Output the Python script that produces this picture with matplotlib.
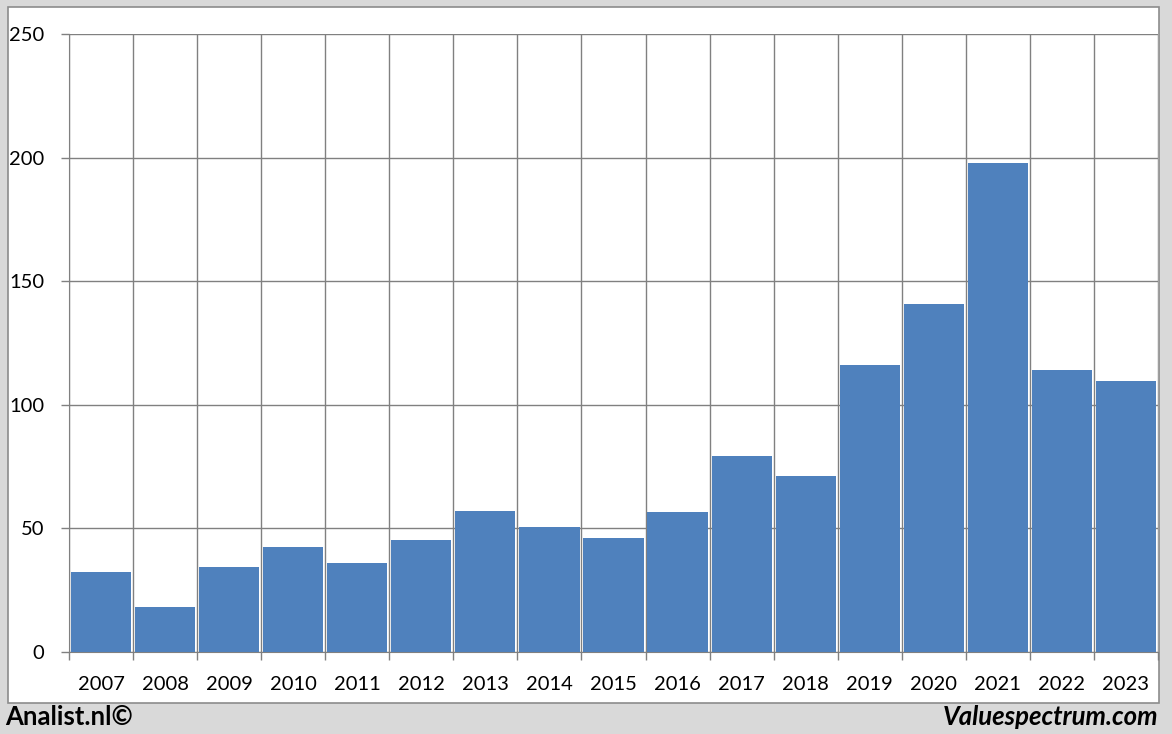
import numpy as np
import matplotlib
matplotlib.use("Agg")
import matplotlib.pyplot as plt
from matplotlib.patches import Rectangle

years = ['2007', '2008', '2009', '2010', '2011', '2012', '2013', '2014', '2015',
         '2016', '2017', '2018', '2019', '2020', '2021', '2022', '2023']
values = [32.4, 18.2, 34.4, 42.5, 36.0, 45.3, 57.0, 50.6, 46.1,
          56.6, 79.3, 71.2, 116.1, 140.8, 197.8, 114.1, 109.6]
yticks = [0, 50, 100, 150, 200, 250]

W, H = 1172, 734
fig = plt.figure(figsize=(W / 100, H / 100), dpi=100)
fig.patch.set_facecolor('#d9d9d9')

# white panel
fig.patches.append(Rectangle((8 / W, 1 - 703 / H), (1159 - 8) / W, (703 - 7) / H,
                             transform=fig.transFigure, facecolor='white',
                             edgecolor='#8c8c8c', linewidth=1.2, zorder=-10))

ax = fig.add_axes([69 / W, 1 - 652 / H, 1089 / W, 618 / H])
ax.set_facecolor('white')

x = np.arange(len(years))
ax.bar(x, values, width=0.94, color='#4f81bd', zorder=3)

ax.set_xlim(-0.5, len(years) - 0.5)
ax.set_ylim(0, 250)
ax.set_yticks(yticks)
ax.set_yticklabels([str(v) for v in yticks])

# category boundaries as ticks + vertical grid
ax.set_xticks(np.arange(len(years) + 1) - 0.5)
ax.set_xticklabels([])
ax.set_xticks(x, minor=True)
ax.set_xticklabels(years, minor=True)
ax.tick_params(axis='x', which='minor', length=0, pad=17, labelsize=14.5)
ax.tick_params(axis='x', which='major', length=6, color='#808080', width=1)
ax.tick_params(axis='y', length=6, color='#808080', width=1, pad=12, labelsize=14.5)

ax.grid(True, axis='y', which='major', color='#808080', linewidth=1)
ax.grid(True, axis='x', which='major', color='#808080', linewidth=1)
ax.set_axisbelow(True)

for s in ['top', 'right']:
    ax.spines[s].set_visible(False)
ax.spines['left'].set_color('#808080')
ax.spines['bottom'].set_color('#808080')

for lbl in ax.get_xticklabels(minor=True) + ax.get_yticklabels():
    lbl.set_fontfamily('Lato')

fig.text(5 / W, 1 - 717 / H, 'Analist.nl©', fontsize=18.5, fontweight='bold',
         family='Lato', ha='left', va='center')
fig.text(1158 / W, 1 - 717 / H, 'Valuespectrum.com', fontsize=18.5, fontweight='bold',
         style='italic', family='Lato', ha='right', va='center')

fig.savefig('out.png', dpi=100, facecolor=fig.get_facecolor())
